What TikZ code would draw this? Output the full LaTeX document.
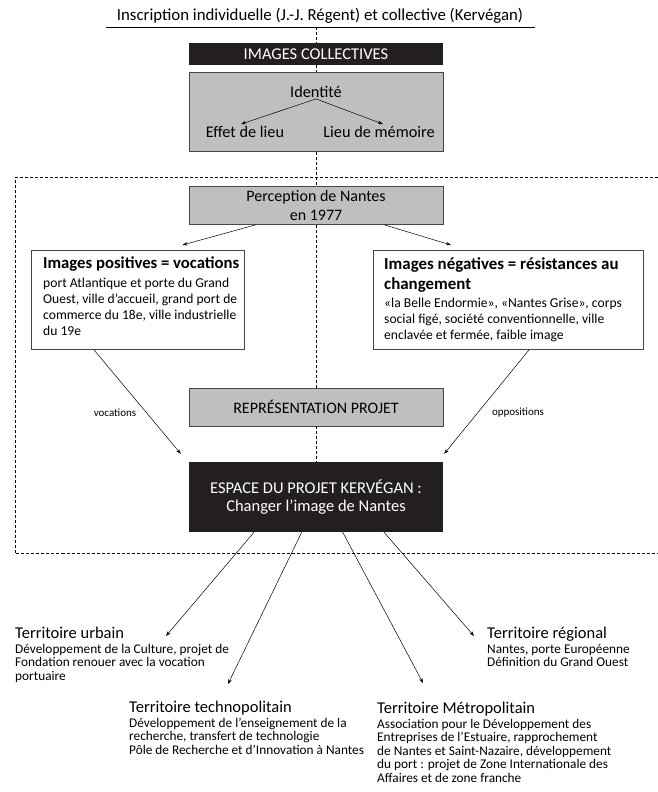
\documentclass[tikz,border=0pt]{standalone}
\usepackage{fontspec}
\setmainfont{Carlito}
\usetikzlibrary{arrows.meta,calc}
\definecolor{boxgrey}{RGB}{191,191,191}
\definecolor{boxblack}{RGB}{35,31,32}
\definecolor{edgegrey}{RGB}{70,70,70}
\newcommand{\fsz}[2]{\fontsize{#1}{#2}\selectfont}

\begin{document}
\begin{tikzpicture}[x=1pt,y=1pt,yscale=-1,
  greybox/.style={draw=edgegrey,line width=0.8pt,fill=boxgrey,minimum width=254pt,inner sep=0pt,font=\fsz{16}{19}},
  blackbox/.style={fill=boxblack,text=white,minimum width=254pt,inner sep=0pt,font=\fsz{16.5}{18.5}},
  textbox/.style={draw=edgegrey,line width=0.9pt,fill=white,anchor=north west,inner sep=0pt},
  boxtext/.style={anchor=north west,inner sep=0pt,align=left,font=\fsz{13.6}{16.2}},
  terr/.style={anchor=north west,inner sep=0pt,align=left,font=\fsz{13.3}{13.5}},
  arr/.style={-{Stealth[length=5pt,width=3.5pt]},line width=0.5pt},
  vdash/.style={dash pattern=on 3pt off 2pt,line width=0.7pt}]
\useasboundingbox (0,0) rectangle (658,792);

%Shape: dashed frame (open on the right)
\draw [vdash] (658,177.5) -- (15,177.5) -- (15,553) -- (658,553) ;

% Text Node
\node (insc) at (320,16) [font=\fsz{16.8}{18},inner sep=0pt] {Inscription individuelle (J.-J. Régent) et collective (Kervégan)};
%Straight Lines
\draw [line width=0.9pt] (106,27) -- (535,27) ;
\coordinate (inscbar) at (316,27);

%Shape: Rectangle
\node (imgcol) at (316,54) [blackbox,minimum height=22.3pt] {IMAGES COLLECTIVES};
%Shape: Rectangle
\node (identbox) at (316,112.2) [greybox,minimum height=79pt] {};
% Text Node
\node (identite) at (316,92) [font=\fsz{16.3}{18},inner sep=1pt] {Identité};
\node (effet) at (245,132) [font=\fsz{16.3}{18},inner sep=1pt] {Effet de lieu};
\node (lieu) at (379,132) [font=\fsz{16.3}{18},inner sep=1pt] {Lieu de mémoire};
\draw [arr] (identite.south) -- ($(effet.north)+(-4,-1)$) ;
\draw [arr] (identite.south) -- ($(lieu.north)+(4,-1)$) ;

%Shape: Rectangle
\node (percep) at (316,205.2) [greybox,minimum height=38.3pt,align=center] {Perception de Nantes\\en 1977};

%Shape: Rectangle
\node (pos) at (31,250) [textbox,minimum width=213pt,minimum height=99pt] {};
\node (postext) at (43,257) [boxtext] {{\fsz{16.7}{18}\bfseries Images positives = vocations}\\[2pt]
port Atlantique et porte du Grand\\
Ouest, ville d’accueil, grand port de\\
commerce du 18e, ville industrielle\\
du 19e};
%Shape: Rectangle
\node (neg) at (373,250) [textbox,minimum width=270pt,minimum height=99pt] {};
\node (negtext) at (384,257) [boxtext] {{\fsz{16.9}{18}\bfseries Images négatives = résistances au}\\[4pt]
{\fsz{16.9}{18}\bfseries changement}\\[2pt]
«la Belle Endormie», «Nantes Grise», corps\\
social figé, société conventionnelle, ville\\
enclavée et fermée, faible image};

\draw [arr] ($(percep.south)+(-60,0)$) -- ($(pos.north west)+(151.5,-5)$) ;
\draw [arr] ($(percep.south)+(68,0)$) -- ($(neg.north west)+(78,-5)$) ;

%Shape: Rectangle
\node (repr) at (316,407) [greybox,minimum height=38pt] {REPRÉSENTATION PROJET};
%Shape: Rectangle
\node (espace) at (316,497) [blackbox,minimum height=70pt,align=center] {ESPACE DU PROJET KERVÉGAN :\\Changer l’image de Nantes};

\draw [arr] ($(pos.south west)+(63,0)$) -- ($(espace.north west)+(-8,-8)$) ;
\draw [arr] ($(neg.south west)+(156,0)$) -- ($(espace.north east)+(1,-8)$) ;
% Text Node
\node (vocations) at (115,413) [font=\fsz{11}{13},inner sep=0pt] {vocations};
\node (oppositions) at (518,413) [font=\fsz{11}{13},inner sep=0pt] {oppositions};

%Straight Lines: dashed axis
\draw [vdash] (inscbar) -- (imgcol.north) ;
\draw [vdash] (imgcol.south) -- (identbox.north) ;
\draw [vdash] (identbox.south) -- (percep.north) ;
\draw [vdash] (percep.south) -- (repr.north) ;
\draw [vdash] (repr.south) -- (espace.north) ;

% Text Node: territoires
\node (urbain) at (15,626.5) [terr] {{\fsz{16.5}{18}Territoire urbain}\\[1.5pt]
Développement de la Culture, projet de\\
Fondation renouer avec la vocation\\
portuaire};
\node (regional) at (487,626.5) [terr] {{\fsz{16.5}{18}Territoire régional}\\[1.5pt]
Nantes, porte Européenne\\
Définition du Grand Ouest};
\node (techno) at (129,700.5) [terr] {{\fsz{16.5}{18}Territoire technopolitain}\\[1.5pt]
Développement de l’enseignement de la\\
recherche, transfert de technologie\\
Pôle de Recherche et d’Innovation à Nantes};
\node (metro) at (377,701.5) [terr] {{\fsz{16.5}{18}Territoire Métropolitain}\\[1.5pt]
Association pour le Développement des\\
Entreprises de l’Estuaire, rapprochement\\
de Nantes et Saint-Nazaire, développement\\
du port : projet de Zone Internationale des\\
Affaires et de zone franche};

\coordinate (urbainpt) at (166,636);
\coordinate (technopt) at (228,684);
\coordinate (metropt) at (423,683);
\coordinate (regionalpt) at (474,636);
\draw [arr] ($(espace.south)+(-62,0)$) -- (urbainpt) ;
\draw [arr] ($(espace.south)+(-14.3,0)$) -- (technopt) ;
\draw [arr] ($(espace.south)+(26.7,0)$) -- (metropt) ;
\draw [arr] ($(espace.south)+(68,0)$) -- (regionalpt) ;

\end{tikzpicture}
\end{document}
